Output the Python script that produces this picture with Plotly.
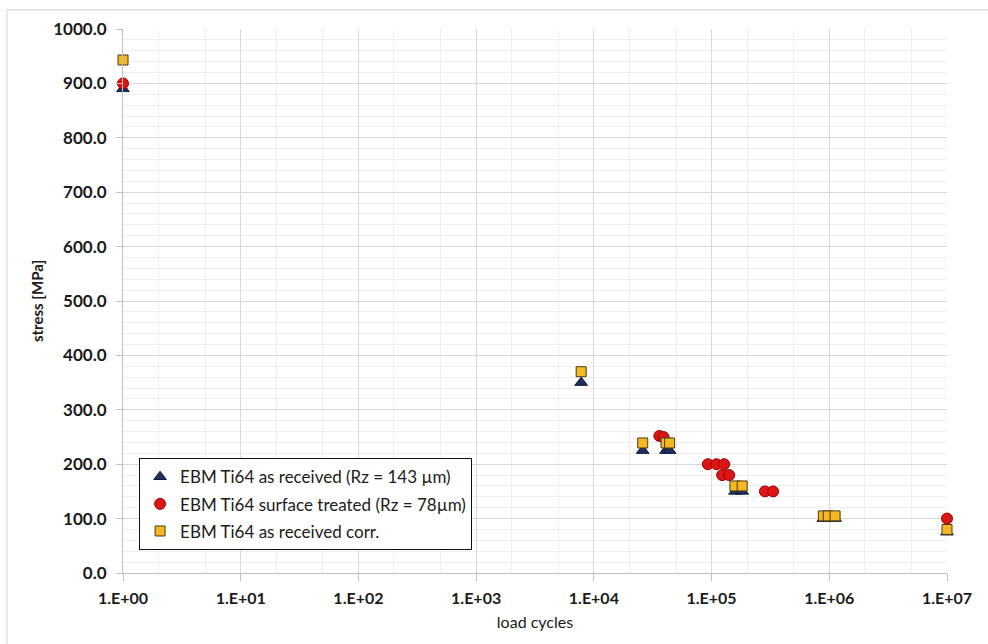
import plotly.graph_objects as go

# Fatigue test results (S-N data) for EBM Ti64 specimens
as_received_cycles = [1, 7800, 26000, 41000, 44000, 158000, 182000, 890000, 980000, 1120000, 1.0e7]
as_received_stress = [890, 350, 225, 225, 225, 150, 150, 100, 100, 100, 75]

surface_treated_cycles = [1, 36000, 39000, 93000, 110000, 128000, 123000, 141000, 284000, 333000, 1.0e7]
surface_treated_stress = [900, 252, 250, 200, 200, 200, 180, 180, 150, 150, 100]

corrected_cycles = [1, 7800, 26000, 41000, 44000, 158000, 182000, 890000, 980000, 1120000, 1.0e7]
corrected_stress = [943, 370, 239, 239, 239, 160, 160, 105, 105, 105, 80]

x_tick_values = [1, 10, 100, 1000, 10000, 100000, 1000000, 10000000]
x_tick_labels = ["1.E+00", "1.E+01", "1.E+02", "1.E+03", "1.E+04", "1.E+05", "1.E+06", "1.E+07"]

FONT = "Lato"
INK = "#1a1a1a"

fig = go.Figure()

fig.add_trace(go.Scatter(
    x=as_received_cycles, y=as_received_stress, mode="markers",
    name="EBM Ti64 as received (Rz = 143 µm)",
    legendgroup="a",
    marker=dict(symbol="triangle-up", size=11, color="#1F2F5E",
                line=dict(color="#101a3a", width=1)),
    cliponaxis=False,
))
fig.add_trace(go.Scatter(
    x=surface_treated_cycles, y=surface_treated_stress, mode="markers",
    name="EBM Ti64 surface treated (Rz = 78µm)",
    legendgroup="b",
    marker=dict(symbol="circle", size=11, color="#DD1515",
                line=dict(color="#A00000", width=1)),
    cliponaxis=False,
))
fig.add_trace(go.Scatter(
    x=corrected_cycles, y=corrected_stress, mode="markers",
    name="EBM Ti64 as received corr.",
    legendgroup="c",
    marker=dict(symbol="square", size=10, color="#F5B821",
                line=dict(color="#4a3a10", width=1)),
    cliponaxis=False,
))

# light outer chart frame
fig.add_shape(type="rect", xref="paper", yref="paper",
              x0=-0.1408, x1=1.2, y0=-0.3, y1=1.035,
              line=dict(color="#d9d9d9", width=1.2), fillcolor="rgba(0,0,0,0)",
              layer="below")

fig.update_xaxes(
    type="log", range=[0, 7],
    tickvals=x_tick_values, ticktext=x_tick_labels,
    tickfont=dict(family=FONT, size=16, color=INK, weight="bold"),
    showgrid=True, gridcolor="#d9d9d9", gridwidth=1,
    minor=dict(showgrid=True, gridcolor="#efefef", gridwidth=1, ticks=""),
    showline=True, linecolor="#bfbfbf", linewidth=1,
    ticks="outside", ticklen=7, tickcolor="#bfbfbf",
    ticklabelstandoff=4,
    zeroline=False,
    title=dict(text="load cycles", font=dict(family=FONT, size=16, color=INK),
               standoff=10),
)
fig.update_yaxes(
    range=[0, 1000], dtick=100, tickformat=".1f",
    tickfont=dict(family=FONT, size=17, color=INK, weight="bold"),
    showgrid=True, gridcolor="#d9d9d9", gridwidth=1,
    minor=dict(showgrid=True, gridcolor="#efefef", gridwidth=1, dtick=20, ticks=""),
    showline=True, linecolor="#bfbfbf", linewidth=1,
    ticks="outside", ticklen=6, tickcolor="#bfbfbf",
    ticklabelstandoff=6,
    zeroline=False,
    title=dict(text="stress [MPa]", font=dict(family=FONT, size=15, color=INK, weight="bold"),
               standoff=6),
)

fig.update_layout(
    width=988, height=644,
    margin=dict(l=123, r=41, t=29, b=71),
    paper_bgcolor="white", plot_bgcolor="white",
    showlegend=True,
    legend=dict(
        x=0.0195, y=0.211, xanchor="left", yanchor="top",
        bgcolor="white", bordercolor="#111", borderwidth=1,
        font=dict(family=FONT, size=17, color=INK),
        traceorder="grouped", tracegroupgap=2,
        itemwidth=30,
    ),
)

fig.write_html("out.html")
